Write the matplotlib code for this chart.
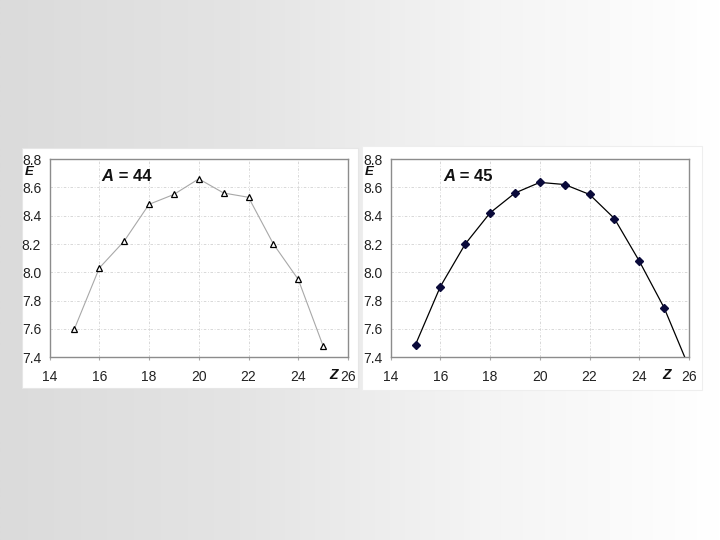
import numpy as np
import matplotlib
matplotlib.use("Agg")
import matplotlib.pyplot as plt
from matplotlib.patches import Rectangle
from matplotlib.colors import LinearSegmentedColormap

plt.rcParams['font.family'] = ['Liberation Sans', 'DejaVu Sans']

# ---- data ----
z_vals = [15, 16, 17, 18, 19, 20, 21, 22, 23, 24, 25]
E_A44 = [7.60, 8.03, 8.22, 8.48, 8.55, 8.66, 8.56, 8.53, 8.20, 7.95, 7.48]
E_A45 = [7.49, 7.90, 8.20, 8.42, 8.56, 8.635, 8.62, 8.55, 8.38, 8.08, 7.75]
# fitted curve for A = 45 continues past the last point to the axis edge
curve45_z = [15, 16, 17, 18, 19, 20, 21, 22, 23, 24, 25, 26]
curve45_E = [7.49, 7.90, 8.20, 8.42, 8.56, 8.635, 8.62, 8.55, 8.38, 8.08, 7.75, 7.33]
x_ticks = [14, 16, 18, 20, 22, 24, 26]
y_ticks = [7.4, 7.6, 7.8, 8.0, 8.2, 8.4, 8.6, 8.8]
labels = ["A = 44", "A = 45"]

fig = plt.figure(figsize=(7.2, 5.4), dpi=100)

# background gradient
bg = fig.add_axes([0, 0, 1, 1], zorder=-10)
grad = np.linspace(0, 1, 256).reshape(1, -1)
cmap = LinearSegmentedColormap.from_list("bg", ["#dbdbdb", "#e4e4e4", "#f4f4f4", "#ffffff"])
bg.imshow(grad, aspect='auto', cmap=cmap, extent=[0, 1, 0, 1])
bg.set_axis_off()

# white panels
fig.patches.append(Rectangle((0.0306, 0.2815), 0.4667, 0.4444, transform=fig.transFigure,
                             facecolor='white', edgecolor='#e6e6e6', lw=0.8, zorder=-5))
fig.patches.append(Rectangle((0.5028, 0.2778), 0.4722, 0.4519, transform=fig.transFigure,
                             facecolor='white', edgecolor='#eeeeee', lw=0.8, zorder=-5))

ax1 = fig.add_axes([0.06875, 0.3383, 0.4146, 0.3672])
ax2 = fig.add_axes([0.5426, 0.3383, 0.4143, 0.3672])

def style(ax, e_x, z_x):
    ax.set_xlim(14, 26)
    ax.set_ylim(7.4, 8.8)
    ax.set_xticks(x_ticks)
    ax.set_yticks(y_ticks)
    ax.set_xticklabels([str(t) for t in x_ticks])
    ax.set_yticklabels([f"{t:.1f}" for t in y_ticks])
    ax.tick_params(axis='both', labelsize=10, colors='#222222', length=2, width=0.8,
                   color='#aaaaaa', direction='out')
    ax.tick_params(axis='x', pad=7)
    ax.tick_params(axis='y', length=0, pad=6)
    for s in ax.spines.values():
        s.set_color('#8c8c8c')
        s.set_linewidth(1.0)
    ax.grid(True, color='#d2d2d2', linestyle=(0, (3, 2, 1, 2)), linewidth=0.6)
    ax.set_axisbelow(True)
    ax.set_facecolor('none')
    ax.text(e_x, 0.934, "E", transform=ax.transAxes, ha='center', va='center',
            fontsize=9.5, fontweight='bold', style='italic', color='#111111')
    ax.text(z_x, -0.089, "Z", transform=ax.transAxes, ha='center', va='center',
            fontsize=10, fontweight='bold', style='italic', color='#111111')

def title(ax, label):
    sym, rest = label.split(" ", 1)
    t = ax.text(16.1, 8.68, sym, ha='left', va='center', fontsize=12,
                fontweight='bold', style='italic', color='#111111')
    ax.annotate(" " + rest, xy=(1, 0), xycoords=t, va='bottom', ha='left',
                fontsize=12, fontweight='bold', color='#111111')

style(ax1, -0.069, 0.95)
style(ax2, -0.073, 0.926)

ax1.plot(z_vals, E_A44, color='#a8a8a8', lw=0.8, zorder=2)
ax1.plot(z_vals, E_A44, linestyle='none', marker='^', markersize=5,
         markerfacecolor='white', markeredgecolor='black', markeredgewidth=0.9, zorder=3)

ax2.plot(curve45_z, curve45_E, color='black', lw=0.9, zorder=2)
ax2.plot(z_vals, E_A45, linestyle='none', marker='D', markersize=3.6,
         markerfacecolor='#0a0a3a', markeredgecolor='#0a0a3a', zorder=3)

title(ax1, labels[0])
title(ax2, labels[1])

fig.savefig("out.png", dpi=100)
